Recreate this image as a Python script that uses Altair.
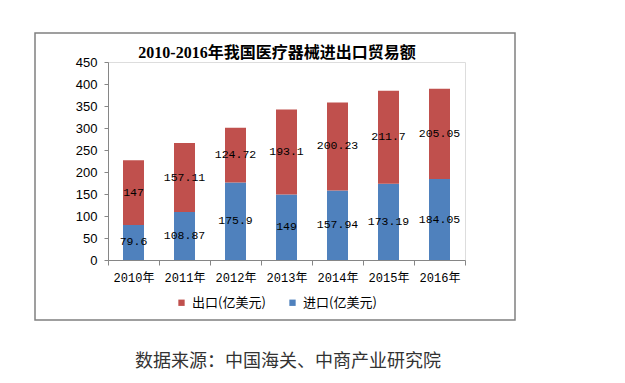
import altair as alt
import pandas as pd

years = ["2010年", "2011年", "2012年", "2013年", "2014年", "2015年", "2016年"]
exports = [147, 157.11, 124.72, 193.1, 200.23, 211.7, 205.05]
imports = [79.6, 108.87, 175.9, 149, 157.94, 173.19, 184.05]
series = ["出口(亿美元)", "进口(亿美元)"]
colors = ["#C0504D", "#4F81BD"]
y_ticks = [0, 50, 100, 150, 200, 250, 300, 350, 400, 450]
title_text = "2010-2016年我国医疗器械进出口贸易额"
source_text = "数据来源：中国海关、中商产业研究院"

rows = []
for yr, e, i in zip(years, exports, imports):
    rows.append({"year": yr, "series": series[1], "v": i, "y0": 0, "y1": i, "label": f"{i:g}"})
    rows.append({"year": yr, "series": series[0], "v": e, "y0": i, "y1": i + e, "label": f"{e:g}"})
df = pd.DataFrame(rows)
df["mid"] = (df["y0"] + df["y1"]) / 2

W, H = 357, 198

xscale = alt.Scale(domain=years, paddingInner=0, paddingOuter=0)
yscale = alt.Scale(domain=[0, 450], nice=False, zero=True)

xaxis = alt.Axis(labelAngle=0, tickBand="extent", tickSize=5, labelPadding=7,
                 labelFont="Liberation Mono, Noto Sans CJK SC", labelFontSize=12,
                 labelColor="#000000", domainColor="#868686", tickColor="#868686",
                 labelOverlap=False, grid=False)
yaxis = alt.Axis(values=y_ticks, grid=False, tickSize=4, labelPadding=7,
                 labelOverlap=False, labelFlush=False,
                 labelFont="Liberation Sans", labelFontSize=13, labelColor="#000000",
                 domainColor="#868686", tickColor="#868686")

base = alt.Chart(df)

bars = base.mark_bar(size=21).encode(
    x=alt.X("year:N", sort=years, title=None, scale=xscale, axis=xaxis),
    y=alt.Y("y0:Q", title=None, scale=yscale, axis=yaxis),
    y2="y1:Q",
    color=alt.Color("series:N", scale=alt.Scale(domain=series, range=colors),
                    legend=alt.Legend(orient="none", legendX=67, legendY=234,
                                      direction="horizontal", title=None,
                                      symbolType="square", symbolSize=40,
                                      symbolStrokeWidth=0, labelFontSize=13,
                                      labelFont="Noto Sans CJK SC", labelColor="#000000",
                                      columnPadding=20, labelOffset=4)),
)

labels = base.mark_text(font="Liberation Mono", fontSize=11.5, color="#000000",
                        baseline="middle").encode(
    x=alt.X("year:N", sort=years, title=None, scale=xscale, axis=xaxis),
    y=alt.Y("mid:Q", title=None, scale=yscale, axis=yaxis),
    text="label:N",
)

deco_df = pd.DataFrame({"t": [title_text]})
title = alt.Chart(deco_df).mark_text(
    font="Liberation Serif, Noto Sans CJK SC", fontSize=16, fontWeight="bold",
    color="#000000", baseline="middle", align="center"
).encode(x=alt.value(169), y=alt.value(-9), text="t:N")

src_df = pd.DataFrame({"t": [source_text]})
source = alt.Chart(src_df).mark_text(
    font="Noto Sans CJK SC", fontSize=18, color="#333333",
    baseline="middle", align="center"
).encode(x=alt.value(180), y=alt.value(300), text="t:N")

border = alt.Chart(deco_df).mark_rect(
    fill=None, stroke="#808080", strokeWidth=1.5
).encode(x=alt.value(-73), x2=alt.value(407), y=alt.value(-29), y2=alt.value(258))

chart = alt.layer(bars, labels, border, title, source).properties(
    width=W, height=H,
    autosize=alt.AutoSizeParams(type="none"),
    padding={"left": 100, "top": 54, "right": 140, "bottom": 112},
).configure_view(strokeWidth=0, stroke="transparent").configure(background="#ffffff")

chart.save("out.html", embed_options={"renderer": "svg", "actions": False})
